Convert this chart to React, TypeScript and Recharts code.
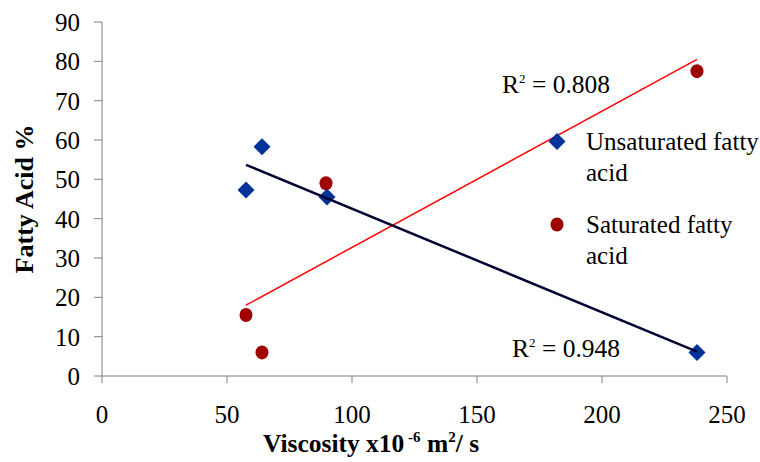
import React from "react";
import { ScatterChart, Scatter, XAxis, YAxis, Legend, ReferenceDot } from "recharts";

const FONT = '"Liberation Serif", "Times New Roman", serif';

// measured points (viscosity x10^-6 m2/s, fatty acid %)
const unsatX = [57.6, 64, 90, 238];
const unsatY = [47.3, 58.3, 45.5, 6];
const satX = [57.6, 64, 89.6, 238];
const satY = [15.5, 6, 49, 77.5];

// trend line ends as drawn in the figure
const unsatTrendX = [57.6, 238];
const unsatTrendY = [53.7, 6.2];
const satTrendX = [57.6, 238];
const satTrendY = [18, 80.5];

const xTicks = [0, 50, 100, 150, 200, 250];
const yTicks = [0, 10, 20, 30, 40, 50, 60, 70, 80, 90];

const seriesNames = ["Unsaturated fatty acid", "Saturated fatty acid"];
const r2Labels = ["R² = 0.808", "R² = 0.948"];

const BLUE = "#00339a";
const RED = "#a00000";

const toRows = (xs: number[], ys: number[]) => xs.map((x, i) => ({ x, y: ys[i] }));

function Diamond(props: any) {
  const { cx, cy } = props;
  const r = 8.5;
  return <path d={`M${cx},${cy - r}L${cx + r},${cy}L${cx},${cy + r}L${cx - r},${cy}Z`} fill={BLUE} />;
}

function Dot(props: any) {
  const { cx, cy } = props;
  return <ellipse cx={cx} cy={cy} rx={6.5} ry={7} fill={RED} />;
}

function R2Text({ viewBox, value }: any) {
  const x = viewBox?.x ?? 0;
  const y = viewBox?.y ?? 0;
  const [head, tail] = value.split("²");
  return (
    <text x={x} y={y} fontFamily={FONT} fontSize={25.5} fill="#000">
      {head}
      <tspan fontSize={13} dy={-10}>2</tspan>
      <tspan dy={10}>{tail}</tspan>
    </text>
  );
}

function LegendBox() {
  const row = (icon: React.ReactNode, lines: string[], mt: number) => (
    <div style={{ display: "flex", marginTop: mt }}>
      <svg width={41} height={31} style={{ flex: "none" }}>
        {icon}
      </svg>
      <div>
        {lines.map((l) => (
          <div key={l}>{l}</div>
        ))}
      </div>
    </div>
  );
  return (
    <div style={{ fontFamily: FONT, fontSize: 25, lineHeight: "31px", color: "#000", whiteSpace: "nowrap" }}>
      {row(
        <path d="M12,7L20.5,15.5L12,24L3.5,15.5Z" fill={BLUE} />,
        ["Unsaturated fatty", "acid"],
        0
      )}
      {row(<ellipse cx={12} cy={15.5} rx={6.5} ry={7} fill={RED} />, ["Saturated fatty", "acid"], 21)}
    </div>
  );
}

export default function App() {
  return (
    <div style={{ position: "absolute", left: 0, top: 0, background: "#fff" }}>
      <ScatterChart width={760} height={462} margin={{ top: 22, right: 33, left: 0, bottom: 0 }}>
        <XAxis
          type="number"
          dataKey="x"
          domain={[0, 250]}
          ticks={xTicks}
          stroke="#808080"
          tickSize={7}
          tickMargin={22}
          height={86}
          tick={{ fill: "#000", fontSize: 25, fontFamily: FONT }}
          label={{
            content: () => (
              <text x={371} y={452} textAnchor="middle" fontFamily={FONT} fontSize={25.5} fontWeight="bold" fill="#000">
                Viscosity x10
                <tspan fontSize={15} dy={-10}> -6</tspan>
                <tspan dy={10}> m</tspan>
                <tspan fontSize={15} dy={-10}>2</tspan>
                <tspan dy={10}>/ s</tspan>
              </text>
            ),
          }}
        />
        <YAxis
          type="number"
          dataKey="y"
          domain={[0, 90]}
          ticks={yTicks}
          stroke="#808080"
          width={102}
          tickSize={8}
          tickMargin={14}
          tick={{ fill: "#000", fontSize: 25, fontFamily: FONT }}
          label={{
            content: () => (
              <text
                x={24}
                y={199}
                transform="rotate(-90, 24, 199)"
                textAnchor="middle"
                dominantBaseline="central"
                fontFamily={FONT}
                fontSize={26}
                fontWeight="bold"
                fill="#000"
              >
                Fatty Acid %
              </text>
            ),
          }}
        />
        <Legend
          layout="vertical"
          align="center"
          verticalAlign="middle"
          wrapperStyle={{ left: 545, top: 126, width: 215 }}
          content={() => <LegendBox />}
        />
        <Scatter name={seriesNames[1]} data={toRows(satX, satY)} shape={<Dot />} isAnimationActive={false} />
        <Scatter name={seriesNames[0]} data={toRows(unsatX, unsatY)} shape={<Diamond />} isAnimationActive={false} />
        <Scatter
          data={toRows(satTrendX, satTrendY)}
          line={{ stroke: "#ff0000", strokeWidth: 1.5 }}
          shape={() => <g />}
          legendType="none"
          isAnimationActive={false}
        />
        <Scatter
          data={toRows(unsatTrendX, unsatTrendY)}
          line={{ stroke: "#000033", strokeWidth: 2.5 }}
          shape={() => <g />}
          legendType="none"
          isAnimationActive={false}
        />
        <ReferenceDot x={160} y={72} r={0} fill="none" stroke="none" ifOverflow="visible" label={{ content: (p: any) => <R2Text {...p} value={r2Labels[0]} /> }} />
        <ReferenceDot x={164} y={4.8} r={0} fill="none" stroke="none" ifOverflow="visible" label={{ content: (p: any) => <R2Text {...p} value={r2Labels[1]} /> }} />
      </ScatterChart>
    </div>
  );
}
